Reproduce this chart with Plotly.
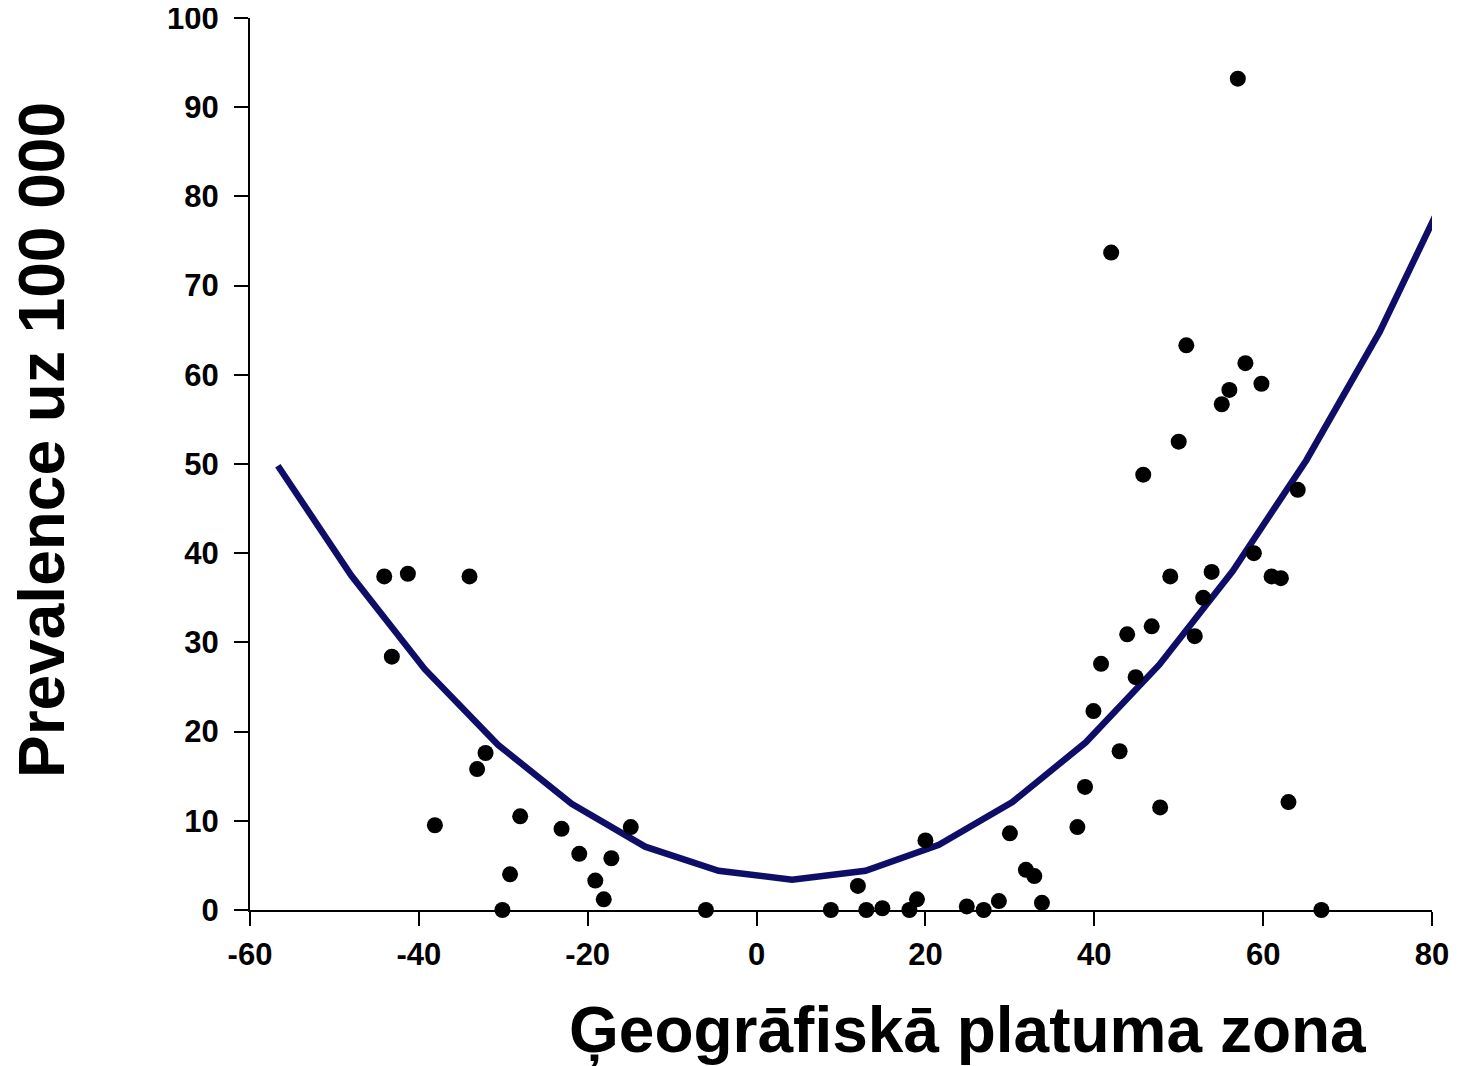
import plotly.graph_objects as go

# Observed data points (latitude, prevalence per 100 000)
lat_points = [-44.1, -41.3, -34.0, -43.2, -32.1, -33.1, -38.1, -28.0, -29.2, -30.1,
              -23.1, -21.0, -19.1, -17.2, -18.1, -14.9, -6.0,
              8.8, 12.0, 13.0, 14.9, 18.1, 19.0, 20.0, 24.9, 26.9, 28.7, 30.0,
              31.9, 32.9, 33.8,
              38.0, 38.9, 39.9, 40.8, 43.0, 43.9, 44.9, 46.8, 47.8, 49.0, 45.8,
              42.0, 50.0, 50.9, 51.9, 52.9, 53.9, 55.1, 56.0, 57.0, 57.9, 58.9,
              59.8, 61.0, 62.1, 63.0, 64.1, 66.9]
prev_points = [37.4, 37.7, 37.4, 28.4, 17.6, 15.8, 9.5, 10.5, 4.0, 0.0,
               9.1, 6.3, 3.3, 5.8, 1.2, 9.3, 0.0,
               0.0, 2.7, 0.0, 0.2, 0.0, 1.2, 7.8, 0.4, 0.0, 1.0, 8.6,
               4.5, 3.8, 0.8,
               9.3, 13.8, 22.3, 27.6, 17.8, 30.9, 26.1, 31.8, 11.5, 37.4, 48.8,
               73.7, 52.5, 63.3, 30.7, 35.0, 37.9, 56.7, 58.3, 93.2, 61.3, 40.0,
               59.0, 37.4, 37.2, 12.1, 47.1, 0.0]

# Fitted curve vertices
curve_lat = [-56.7, -48.0, -39.3, -30.6, -21.9, -13.2, -4.5, 4.2, 12.9, 21.6,
             30.3, 39.0, 47.7, 56.4, 65.1, 73.8, 81.5]
curve_prev = [49.8, 37.5, 27.0, 18.5, 11.9, 7.1, 4.4, 3.4, 4.4, 7.3,
              12.1, 18.8, 27.5, 38.0, 50.4, 64.8, 80.0]

x_ticks = [-60, -40, -20, 0, 20, 40, 60, 80]
y_ticks = [0, 10, 20, 30, 40, 50, 60, 70, 80, 90, 100]

x_title = "Ģeogrāfiskā platuma zona"
y_title = "Prevalence uz 100 000"

FONT = "Liberation Sans, Arial, sans-serif"

fig = go.Figure()
fig.add_trace(go.Scatter(
    x=curve_lat, y=curve_prev, mode="lines",
    line=dict(color="#0e0e68", width=6.5),
    hoverinfo="skip", showlegend=False))
fig.add_trace(go.Scatter(
    x=lat_points, y=prev_points, mode="markers",
    marker=dict(color="black", size=16, line=dict(width=0)),
    cliponaxis=False, showlegend=False))

W, H = 1452, 1058
L, R, T, B = 242, 28, 10, 156
fig.update_layout(
    width=W, height=H,
    margin=dict(l=L, r=R, t=T, b=B, autoexpand=False),
    paper_bgcolor="white", plot_bgcolor="white",
    xaxis=dict(range=[-60, 80], tickvals=x_ticks, ticktext=[str(v) for v in x_ticks],
               showgrid=False, zeroline=False, showline=True, linecolor="black",
               linewidth=2, ticks="outside", ticklen=14, tickwidth=2, tickcolor="black",
               automargin=False, ticklabeloverflow="allow", ticklabelstandoff=2,
               tickfont=dict(family=FONT, size=31, color="black", weight="bold")),
    yaxis=dict(range=[0, 100], tickvals=y_ticks, ticktext=[str(v) for v in y_ticks],
               showgrid=False, zeroline=False, showline=True, linecolor="black",
               linewidth=2, ticks="outside", ticklen=14, tickwidth=2, tickcolor="black",
               automargin=False, ticklabeloverflow="allow", ticklabelstandoff=9,
               tickfont=dict(family=FONT, size=31, color="black", weight="bold")),
)
pw = W - L - R
ph = H - T - B
# title centres in page pixels (x 967, y 1030 for x-title; x 41, y 440 for y-title)
fig.add_annotation(text="<b>" + x_title + "</b>", xref="paper", yref="paper",
                   x=(967 - 8 - L) / pw, y=(H - B - (1030 - 8)) / ph,
                   xanchor="center", yanchor="middle", showarrow=False,
                   font=dict(family=FONT, size=64, color="black"))
fig.add_annotation(text="<b>" + y_title + "</b>", xref="paper", yref="paper",
                   x=(42 - 8 - L) / pw, y=(H - B - (440 - 8)) / ph,
                   xanchor="center", yanchor="middle", showarrow=False, textangle=-90,
                   font=dict(family=FONT, size=64, color="black"))

fig.write_html("out.html")
